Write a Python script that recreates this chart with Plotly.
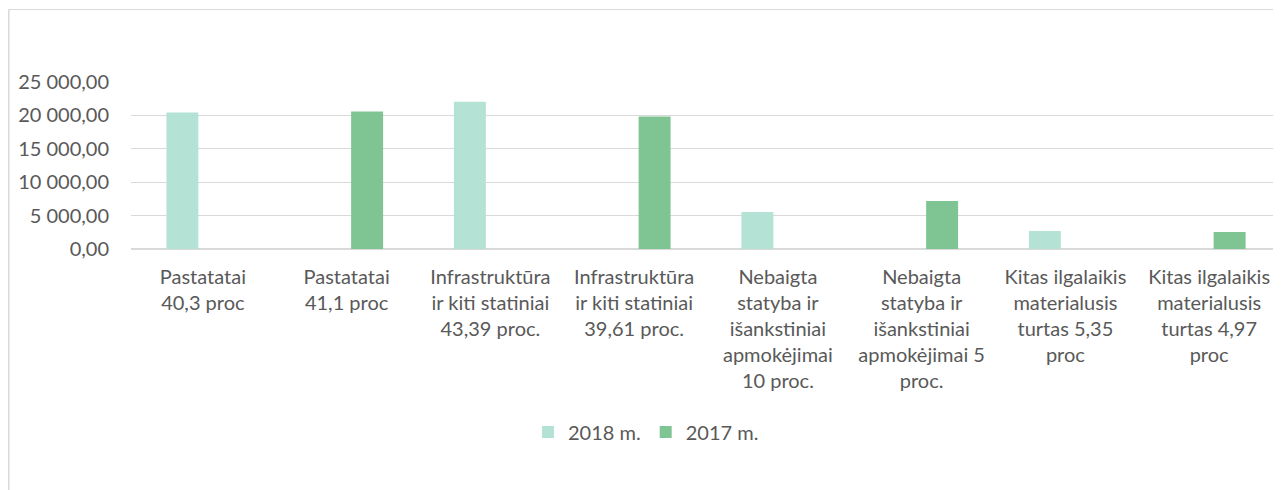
import plotly.graph_objects as go

categories = [
    "Pastatatai<br>40,3 proc",
    "Pastatatai<br>41,1 proc",
    "Infrastruktūra<br>ir kiti statiniai<br>43,39 proc.",
    "Infrastruktūra<br>ir kiti statiniai<br>39,61 proc.",
    "Nebaigta<br>statyba ir<br>išankstiniai<br>apmokėjimai<br>10 proc.",
    "Nebaigta<br>statyba ir<br>išankstiniai<br>apmokėjimai 5<br>proc.",
    "Kitas ilgalaikis<br>materialusis<br>turtas 5,35<br>proc",
    "Kitas ilgalaikis<br>materialusis<br>turtas 4,97<br>proc",
]
values_2018 = [20450, None, 22050, None, 5550, None, 2700, None]
values_2017 = [None, 20600, None, 19850, None, 7200, None, 2550]
series_names = ["2018 m.", "2017 m."]
tick_values = [0, 5000, 10000, 15000, 20000, 25000]

# page body has an 8px margin, so the figure is laid out in page pixels minus 8
OFF = 8
W, H = 1281 - OFF, 490 - OFF
PL, PR, PT, PB = 131 - OFF, 1281 - OFF, 82 - OFF, 249 - OFF   # plot area in figure px
ML, MR, MT, MB = PL, W - PR, PT, H - PB
FONT = "Lato"
TXT = "#595959"
GRID = "#d9d9d9"
FS = 20

fig = go.Figure()
fig.add_trace(go.Bar(x=categories, y=values_2018, name=series_names[0],
                     marker=dict(color="#B4E3D6", line=dict(width=0))))
fig.add_trace(go.Bar(x=categories, y=values_2017, name=series_names[1],
                     marker=dict(color="#7FC593", line=dict(width=0))))

pw = PR - PL
ph = PB - PT
def px_x(p):
    return (p - PL) / pw
def px_y(p):
    return (PB - p) / ph

shapes = [
    dict(type="line", xref="paper", yref="paper", x0=px_x(0.5), x1=px_x(W + 5),
         y0=px_y(1.5), y1=px_y(1.5), line=dict(color=GRID, width=1)),
    dict(type="line", xref="paper", yref="paper", x0=px_x(0.8), x1=px_x(0.8),
         y0=px_y(1.5), y1=px_y(H + 5), line=dict(color=GRID, width=1.5)),
]

fig.update_layout(
    width=W, height=H,
    margin=dict(l=ML, r=MR, t=MT, b=MB, autoexpand=False),
    paper_bgcolor="white", plot_bgcolor="white",
    barmode="group", bargap=0.43, bargroupgap=0.22,
    font=dict(family=FONT, size=FS, color=TXT),
    separators=", ",
    showlegend=True,
    legend=dict(orientation="h", xref="container", yref="container",
                x=(646 - OFF) / W, xanchor="center", y=1 - (432 - OFF) / H, yanchor="middle",
                font=dict(size=FS, color=TXT), traceorder="normal"),
    xaxis=dict(showgrid=False, showline=False, ticks="", tickangle=0,
               ticklabelstandoff=14,
               tickfont=dict(size=FS, color=TXT)),
    yaxis=dict(range=[0, 25000], tickvals=tick_values, tickformat=",.2f",
               showgrid=True, gridcolor=GRID, gridwidth=1,
               zeroline=True, zerolinecolor=GRID, zerolinewidth=1.5,
               showline=False, ticks="", ticklabelstandoff=21,
               tickfont=dict(size=FS, color=TXT)),
    shapes=shapes,
)

fig.write_html("out.html")
